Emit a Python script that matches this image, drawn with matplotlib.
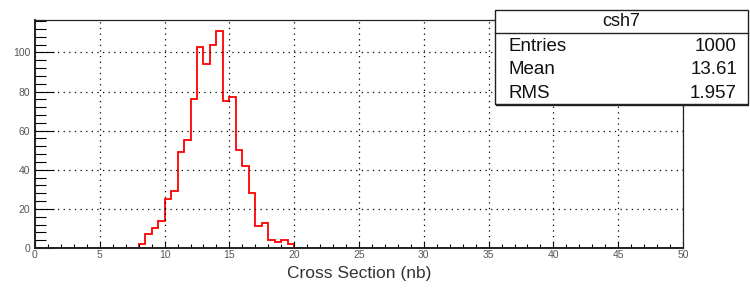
import matplotlib
matplotlib.use("Agg")
import matplotlib.pyplot as plt
import numpy as np
from matplotlib.patches import Rectangle
from matplotlib.lines import Line2D
from matplotlib.ticker import MultipleLocator

# Histogram definition (ROOT TH1: 100 bins on [0, 50])
n_bins = 100
x_min, x_max = 0.0, 50.0
first_filled_bin_low = 8.0
counts_filled = [2, 7, 10, 14, 25, 29, 49, 55, 76, 103, 94, 104, 111, 75, 77,
                 50, 42, 28, 11, 13, 4, 3, 4, 2]

hist_name = "csh7"
stat_labels = ["Entries", "Mean", "RMS"]
stat_values = ["1000", "13.61", "1.957"]
x_title = "Cross Section (nb)"
x_ticks = [0, 5, 10, 15, 20, 25, 30, 35, 40, 45, 50]
y_ticks = [0, 20, 40, 60, 80, 100]

edges = np.linspace(x_min, x_max, n_bins + 1)
bin_w = (x_max - x_min) / n_bins
counts = np.zeros(n_bins)
start = int(round((first_filled_bin_low - x_min) / bin_w))
counts[start:start + len(counts_filled)] = counts_filled

plt.rcParams['font.family'] = ['Liberation Sans', 'DejaVu Sans']

W, H = 750, 290
fig = plt.figure(figsize=(W / 100, H / 100), dpi=100)
ax = fig.add_axes([35 / W, 1 - 248 / H, 648 / W, 228 / H])

ax.stairs(counts, edges, color='#ff0000', linewidth=1.3, zorder=2)

ax.set_xlim(x_min, x_max)
ax.set_ylim(0, 1.05 * max(counts_filled))

ax.set_xticks(x_ticks)
ax.set_yticks(y_ticks)
ax.xaxis.set_minor_locator(MultipleLocator(1))
ax.yaxis.set_minor_locator(MultipleLocator(4))

ax.tick_params(axis='x', which='major', direction='in', length=4.5, width=0.8,
               labelsize=7.5, labelcolor='#555555', pad=1.5, top=False)
ax.tick_params(axis='x', which='minor', direction='in', length=2.6, width=0.8, top=False)
ax.tick_params(axis='y', which='major', direction='in', length=14, width=0.8,
               labelsize=7.5, labelcolor='#555555', pad=3.5, right=False)
ax.tick_params(axis='y', which='minor', direction='in', length=8, width=0.8, right=False)

ax.grid(True, which='major', color='black', linestyle=(0, (1, 3.5)), linewidth=0.9)
ax.set_axisbelow(False)

for s in ax.spines.values():
    s.set_linewidth(0.9)
    s.set_color('#222222')
    s.set_zorder(3)
ax.spines['bottom'].set_linewidth(1.4)
ax.spines['left'].set_linewidth(1.4)

ax.set_xlabel(x_title, fontsize=12.5, color='#333333')
ax.xaxis.set_label_coords(0.5, -0.08)

# Stats box
bx0, bx1 = 495 / W, 748 / W
by0, by1 = 1 - 104 / H, 1 - 10 / H
fig.add_artist(Rectangle((bx0, by0), bx1 - bx0, by1 - by0, transform=fig.transFigure,
                         facecolor='white', edgecolor='#222222', linewidth=1.0, zorder=5))
fig.add_artist(Line2D([bx0, bx1], [1 - 33 / H, 1 - 33 / H], transform=fig.transFigure,
                      color='#222222', linewidth=1.0, zorder=6))
fig.add_artist(Line2D([bx0 + 1 / W, bx1], [by0 - 0.8 / H, by0 - 0.8 / H], transform=fig.transFigure,
                      color='#222222', linewidth=1.0, zorder=6))
fig.text((bx0 + bx1) / 2, 1 - 21 / H, hist_name, ha='center', va='center',
         fontsize=13, color='#111111', zorder=7)
rows_y = [46.5, 70, 93]
for lab, val, yy in zip(stat_labels, stat_values, rows_y):
    fig.text(508 / W, 1 - yy / H, lab, ha='left', va='center', fontsize=13.5,
             color='#111111', zorder=7)
    fig.text(737 / W, 1 - yy / H, val, ha='right', va='center', fontsize=13.5,
             color='#111111', zorder=7)

fig.savefig("out.png", dpi=100)
